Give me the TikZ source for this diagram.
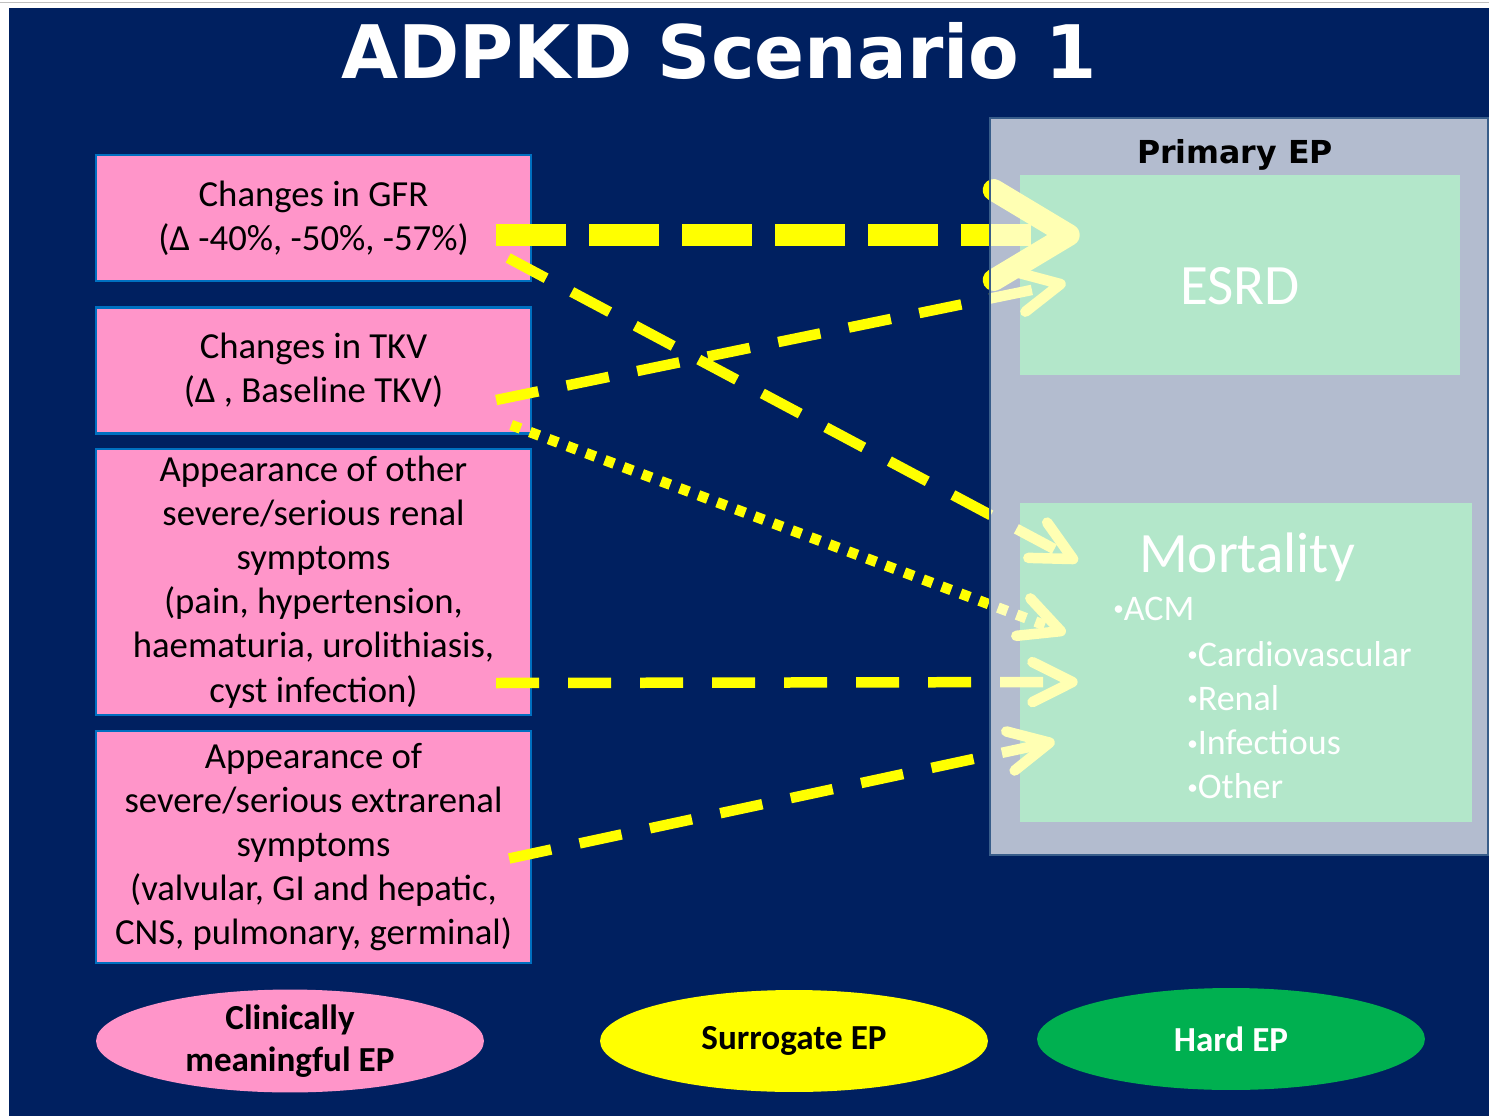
\documentclass[tikz,border=0pt]{standalone}
\usepackage{fontspec}
\setmainfont{Carlito}
\newfontfamily\verdanafont{DejaVu Sans}
\usetikzlibrary{arrows.meta,shapes.geometric}
\definecolor{navy}{HTML}{002060}
\definecolor{cmpink}{HTML}{FF95C9}
\definecolor{boxline}{HTML}{0070C0}
\definecolor{hardgreen}{HTML}{00B050}
\definecolor{panelline}{HTML}{385D8A}
\definecolor{arrowyellow}{HTML}{FFFF00}
\newcommand\smallbullet{\raisebox{2.6pt}{\fontsize{12}{12}\selectfont•}}

\begin{document}
\begin{tikzpicture}[x=0.02cm, y=-0.02cm,
    cmbox/.style={draw=boxline, line width=1.4pt, fill=cmpink, minimum width=8.7cm,
        inner sep=0pt, align=center, font=\fontsize{20.9}{25.1}\selectfont},
    hardbox/.style={fill=hardgreen, inner sep=0pt},
    bigwhite/.style={text=white, inner sep=0pt, font=\fontsize{32.5}{39}\selectfont},
    smallwhite/.style={text=white, inner sep=0pt, anchor=base west, font=\fontsize{20.5}{24}\selectfont},
    keybubble/.style={ellipse, minimum width=7.76cm, minimum height=2.04cm, inner sep=0pt,
        align=center, font=\bfseries\fontsize{20}{24}\selectfont},
    thickdash/.style={draw=arrowyellow, line width=0.44cm, dash pattern=on 1.4cm off 0.46cm,
        -{Straight Barb[length=1.5cm, width=1.8cm, round]}},
    thindash/.style={draw=arrowyellow, line width=0.21cm, dash pattern=on 0.86cm off 0.58cm,
        -{Straight Barb[length=0.8cm, width=0.8cm, round]}},
    dotline/.style={draw=arrowyellow, line width=0.21cm, dash pattern=on 0.2cm off 0.2cm,
        -{Straight Barb[length=0.8cm, width=0.8cm, round]}},
]
    \useasboundingbox (0,0) rectangle (1489,1116);
    \fill[white] (0,0) rectangle (1489,1116);
    \draw[black!25, line width=1.1pt] (0,2.5) -- (1489,2.5);
    \fill[navy] (9,8) rectangle (1489,1116);

    \node[text=white, anchor=base, inner sep=0pt, font=\verdanafont\bfseries\fontsize{42}{50}\selectfont]
        (title) at (719,78) {ADPKD Scenario 1};

    % clinically meaningful endpoints
    \node[cmbox, minimum height=2.52cm] (gfr) at (313.5,218) {Changes in GFR\\(Δ -40\%, -50\%, -57\%)};
    \node[cmbox, minimum height=2.52cm] (tkv) at (313.5,370.5) {Changes in TKV\\(Δ , Baseline TKV)};
    \node[cmbox, minimum height=5.32cm] (renal) at (313.5,582) {Appearance of other\\severe/serious renal\\symptoms\\(pain, hypertension,\\haematuria, urolithiasis,\\cyst infection)};
    \node[cmbox, minimum height=4.64cm] (extra) at (313.5,847) {Appearance of\\severe/serious extrarenal\\symptoms\\(valvular, GI and hepatic,\\CNS, pulmonary, germinal)};

    % hard endpoints
    \node[hardbox, minimum width=8.8cm, minimum height=4cm] (esrd) at (1240,275) {};
    \node[bigwhite] at ([yshift=-0.22cm]esrd.center) {ESRD};
    \node[hardbox, minimum width=9.04cm, minimum height=6.38cm] (mort) at (1246,662.5) {};
    \node[bigwhite, anchor=base] (morttitle) at (1247,572) {Mortality};
    \node[smallwhite] (acm) at (1113,620) {\smallbullet ACM};
    \foreach \cause [count=\i] in {Cardiovascular,Renal,Infectious,Other}
        \node[smallwhite] at (1187,{666+44.3*(\i-1)}) {\smallbullet\cause};

    % surrogate links
    \draw[thickdash] ([shift={(-36,17)}]gfr.east) -- ([shift={(60,-40)}]esrd.west);
    \draw[thindash] ([shift={(-24,40)}]gfr.east) -- ([shift={(58,-101)}]mort.west);
    \draw[thindash] ([shift={(-36,29.5)}]tkv.east) -- ([shift={(46,8)}]esrd.west);
    \draw[dotline] ([shift={(-21,54.5)}]tkv.east) -- ([shift={(46,-29.5)}]mort.west);
    \draw[thindash] ([shift={(-36,101)}]renal.east) -- ([shift={(58,19.5)}]mort.west);
    \draw[thindash] ([shift={(-23,11.5)}]extra.east) -- ([shift={(35,79)}]mort.west);

    % primary endpoint panel
    \node[draw=panelline, line width=1.6pt, fill=white, fill opacity=0.7, draw opacity=1,
        minimum width=9.96cm, minimum height=14.74cm, inner sep=0pt] (panel) at (1239,486.5) {};
    \node[anchor=base, inner sep=0pt, font=\verdanafont\bfseries\fontsize{18}{22}\selectfont]
        (paneltitle) at (1235,163) {Primary EP};

    % key
    \node[keybubble, fill=cmpink] (keycm) at (290,1041) {Clinically\\meaningful EP};
    \node[keybubble, fill=arrowyellow] (keysur) at (794,1041) {Surrogate EP};
    \node[keybubble, fill=hardgreen, text=white] (keyhard) at (1231,1039) {Hard EP};
\end{tikzpicture}
\end{document}
